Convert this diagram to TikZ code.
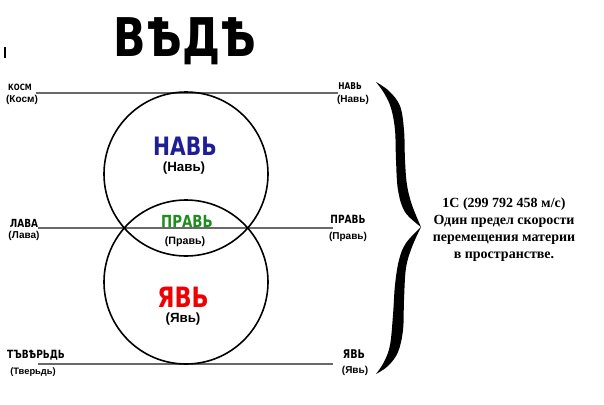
\documentclass[tikz,border=0pt]{standalone}
\usepackage{fontspec}
\setmainfont{Liberation Serif}
\newfontfamily\capf{Liberation Sans}
\newfontfamily\deco[FakeStretch=0.8]{DejaVu Sans}
\definecolor{navblue}{RGB}{30,30,150}
\definecolor{pravgreen}{RGB}{30,140,30}
\definecolor{yavred}{RGB}{240,0,0}
\definecolor{linegray}{RGB}{105,105,105}
\begin{document}
\begin{tikzpicture}[x=0.75pt,y=-0.75pt,
  lbltext/.style={font=\capf\bfseries\fontsize{7.5}{8}\selectfont,inner sep=0},
  biglbl/.style={font=\capf\bfseries\fontsize{10}{11}\selectfont,inner sep=0},
  glyphw/.style={font=\deco\bfseries\fontsize{#1}{#1}\selectfont,inner sep=0,anchor=base},
  levelline/.style={draw=linegray,line width=1pt},
  worldc/.style={circle,draw=black,line width=1.2pt,minimum size=123pt,inner sep=0}]
\useasboundingbox[fill=white] (0,0) rectangle (604,404);

% cursor mark
\fill (4,47) rectangle (6,58);

% title
\node[glyphw=40] (title) at (185,56) {ВѢДѢ};

% level lines
\coordinate (l1a) at (36,93);  \coordinate (l1b) at (338,93);
\coordinate (l2a) at (38,228); \coordinate (l2b) at (333,228);
\coordinate (l3a) at (38,364); \coordinate (l3b) at (333,364);
\draw[levelline] (l1a) -- (l1b);
\draw[levelline] (l2a) -- (l2b);
\draw[levelline] (l3a) -- (l3b);

% worlds
\node[worldc] (navc) at (186,174) {};
\node[worldc] (yavc) at (186,282) {};

% inner words
\node[glyphw=19,text=navblue] (navw) at (185,155) {НАВЬ};
\node[biglbl] (navcap) at (184,168) {(Навь)};
\node[glyphw=12.5,text=pravgreen] (pravw) at (187,227) {ПРАВЬ};
\node[lbltext,font=\capf\bfseries\fontsize{8}{9}\selectfont] (pravcap) at (185,242) {(Правь)};
\node[glyphw=21,text=yavred] (yavw) at (183,307) {ЯВЬ};
\node[biglbl] (yavcap) at (183,319) {(Явь)};

% corner labels
\node[glyphw=6.5] (kosmw) at (20,90) {КОСМ};
\node[lbltext] (kosmcap) at (22,100) {(Косм)};
\node[glyphw=7] (navrw) at (350,89) {НАВЬ};
\node[lbltext] (navrcap) at (353,100) {(Навь)};
\node[glyphw=8.4] (lavaw) at (24,227) {ЛАВА};
\node[lbltext] (lavacap) at (24,236) {(Лава)};
\node[glyphw=8.5] (pravrw) at (348,223) {ПРАВЬ};
\node[lbltext] (pravrcap) at (348,237) {(Правь)};
\node[glyphw=8.5] (tverw) at (36,358) {ТЪВѢРЬДЬ};
\node[lbltext,font=\capf\bfseries\fontsize{7}{8}\selectfont] (tvercap) at (33,372) {(Тверьдь)};
\node[glyphw=9] (yavrw) at (354,358) {ЯВЬ};
\node[lbltext] (yavrcap) at (355,371) {(Явь)};

% brace
\fill[black] plot[smooth,tension=0.6] coordinates {(376,82) (389,91) (400,106) (404,130) (405,160) (407,185) (412,205) (421,227)}
 -- plot[smooth,tension=0.6] coordinates {(421,227) (412,247) (406,268) (404,300) (403,330) (398,352) (388,366) (376,374)}
 -- plot[smooth,tension=0.6] coordinates {(376,374) (384,362) (390,345) (393,315) (395,285) (399,260) (406,243) (421,227)}
 -- plot[smooth,tension=0.6] coordinates {(421,227) (405,212) (398,190) (396,160) (395,130) (391,108) (384,93) (376,82)} -- cycle;

% note
\node[font=\bfseries\fontsize{10.5}{12.75}\selectfont,align=center,inner sep=0] (note) at (504,230)
  {1C (299 792 458 м/с)\\Один предел скорости\\перемещения материи\\в пространстве.};
\end{tikzpicture}
\end{document}
